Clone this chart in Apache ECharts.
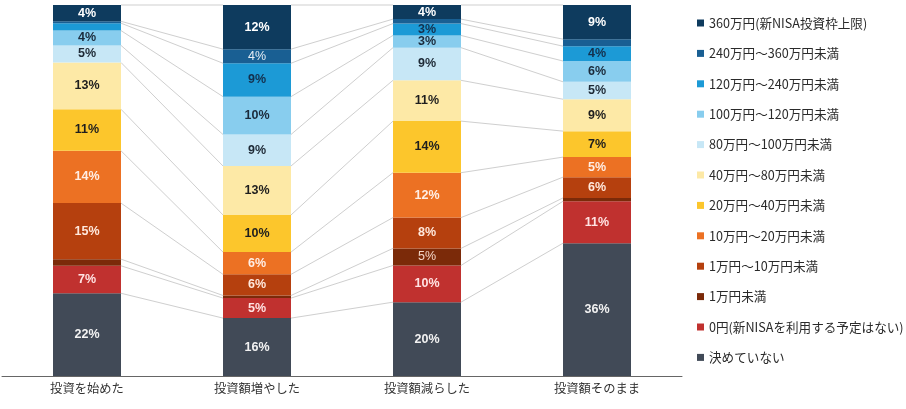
<!DOCTYPE html>
<html><head><meta charset="utf-8">
<script src="https://cdn.jsdelivr.net/npm/echarts@6/dist/echarts.min.js"></script>
<style>html,body{margin:0;padding:0;background:#fff}#c{width:906px;height:409px}</style>
</head><body><div id="c"></div>
<script>
const categories = ['投資を始めた','投資額増やした','投資額減らした','投資額そのまま'];
const seriesNames = ['決めていない','0円(新NISAを利用する予定はない)','1万円未満','1万円～10万円未満','10万円～20万円未満','20万円～40万円未満','40万円～80万円未満','80万円～100万円未満','100万円～120万円未満','120万円～240万円未満','240万円～360万円未満','360万円(新NISA投資枠上限)'];
const undecided = [22.3, 15.6, 19.9, 35.8];
const zero = [7.4, 5.4, 9.9, 11.3];
const under1 = [1.8, 0.7, 4.6, 0.9];
const r1to10 = [15.1, 5.7, 8.3, 5.6];
const r10to20 = [14.1, 6.0, 12.1, 5.4];
const r20to40 = [11.2, 10.0, 13.9, 7.0];
const r40to80 = [12.6, 13.2, 11.0, 8.6];
const r80to100 = [4.6, 8.5, 8.8, 4.7];
const r100to120 = [4.0, 10.2, 3.3, 5.6];
const r120to240 = [2.0, 9.0, 3.2, 4.0];
const r240to360 = [0.5, 3.8, 1.2, 1.9];
const r360 = [4.4, 11.9, 3.8, 9.2];
const values = [undecided, zero, under1, r1to10, r10to20, r20to40, r40to80, r80to100, r100to120, r120to240, r240to360, r360];

const colors = ['#414a57','#c0312f','#7b2a09','#b5400e','#ec7123','#fcc62c','#fde9a6','#c7e7f6','#88cdee','#1c9ad6','#195f93','#0e3b5e'];
const labelColors = ['#f2f2f2','#ffe3e3','#f3d6c8','#ffe8dc','#ffeee5','#1e1e1e','#1e1e1e','#1e2a36','#1b2a3a','#14304d','#e6edf4','#ffffff'];
const labelWeights = ['bold','bold','normal','bold','bold','bold','bold','bold','bold','bold','normal','bold'];

const BAR_RATIO = 0.4;
const series = values.map((arr, k) => ({
  name: seriesNames[k],
  type: 'bar',
  stack: 'total',
  barWidth: '40%',
  z: 3,
  itemStyle: { color: colors[k] },
  label: {
    show: true,
    position: 'inside',
    fontFamily: 'Liberation Sans, Arial, sans-serif',
    fontSize: 12.5,
    fontWeight: labelWeights[k],
    color: labelColors[k],
    formatter: p => p.value >= 2.5 ? Math.round(p.value) + '%' : ''
  },
  data: arr
}));

// cumulative boundaries for connector lines
const lineData = [];
for (let i = 0; i < categories.length - 1; i++) {
  let c1 = 0, c2 = 0;
  for (let k = 0; k < values.length; k++) {
    c1 += values[k][i];
    c2 += values[k][i + 1];
    lineData.push([i, c1, c2]);
  }
}
series.push({
  type: 'custom',
  name: 'connectors',
  z: 1,
  silent: true,
  encode: { x: 0, y: 1 },
  data: lineData,
  renderItem: function (params, api) {
    const i = api.value(0);
    const p1 = api.coord([i, api.value(1)]);
    const p2 = api.coord([i + 1, api.value(2)]);
    const bw = api.size([1, 0])[0] * BAR_RATIO;
    return {
      type: 'line',
      shape: { x1: p1[0] + bw / 2, y1: p1[1], x2: p2[0] - bw / 2, y2: p2[1] },
      style: { stroke: '#cfcfcf', lineWidth: 1 }
    };
  }
});

const chart = echarts.init(document.getElementById('c'), null, { renderer: 'canvas' });
chart.setOption({
  animation: false,
  backgroundColor: '#ffffff',
  grid: { left: 2, top: 5, width: 680, bottom: 33 },
  legend: {
    orient: 'vertical',
    left: 692,
    top: 11,
    itemWidth: 7,
    itemHeight: 7,
    itemGap: 16.4,
    icon: 'rect',
    data: seriesNames.slice().reverse(),
    textStyle: { fontFamily: 'Noto Sans CJK JP', fontSize: 12.6, color: '#2a2a2a', lineHeight: 14 }
  },
  xAxis: {
    type: 'category',
    data: categories,
    axisTick: { show: false },
    axisLine: { lineStyle: { color: '#666', width: 1 } },
    axisLabel: { fontFamily: 'Noto Sans CJK JP', fontSize: 12.3, color: '#333', margin: 6 }
  },
  yAxis: { type: 'value', min: 0, max: 100, show: false, splitLine: { show: false } },
  series: series
});
</script></body></html>
